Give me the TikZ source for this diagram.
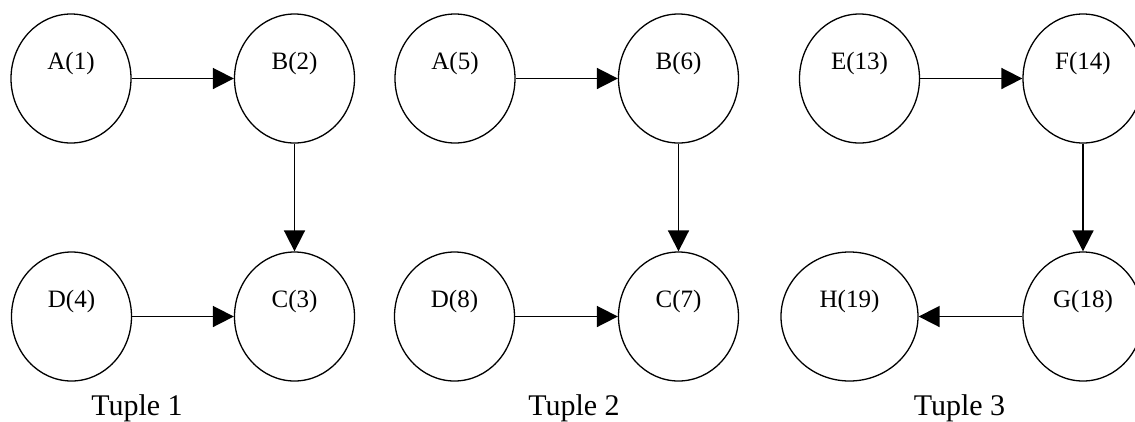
\documentclass[tikz,border=0pt]{standalone}
\usepackage{fontspec}
\setmainfont{Liberation Serif}
\usetikzlibrary{arrows.meta,shapes.geometric}
\begin{document}
\begin{tikzpicture}[x=1bp,y=-1bp,
  state/.style={draw, ellipse, line width=1.3bp, inner sep=0pt,
    minimum width=120bp, minimum height=129bp,
    font=\fontsize{25bp}{25bp}\selectfont,
    text height=18bp, text depth=36bp},
  wide/.style={minimum width=137bp},
  link/.style={line width=1.7bp, -{Triangle[length=21bp,width=21bp]}},
  caption/.style={font=\fontsize{30bp}{30bp}\selectfont, anchor=base}]
  \useasboundingbox (0,0) rectangle (1135,421);
  \clip (0,0) rectangle (1135,421);

  % Tuple 1
  \node[state] (a1) at (71,78.5) {A(1)};
  \node[state] (b2) at (294.5,78.5) {B(2)};
  \node[state] (d4) at (71.5,316.5) {D(4)};
  \node[state] (c3) at (294.5,316.5) {C(3)};
  \draw[link] (a1) -- (b2);
  \draw[link] (b2) -- (c3);
  \draw[link] (d4) -- (c3);
  \node[caption] (t1) at (137,415) {Tuple 1};

  % Tuple 2
  \node[state] (a5) at (455,78.5) {A(5)};
  \node[state] (b6) at (678.5,78.5) {B(6)};
  \node[state] (d8) at (454.5,316.5) {D(8)};
  \node[state] (c7) at (678.5,316.5) {C(7)};
  \draw[link] (a5) -- (b6);
  \draw[link] (b6) -- (c7);
  \draw[link] (d8) -- (c7);
  \node[caption] (t2) at (574,415) {Tuple 2};

  % Tuple 3
  \node[state] (e13) at (859.5,78.5) {E(13)};
  \node[state] (f14) at (1083,78.5) {F(14)};
  \node[state] (g18) at (1083,316.5) {G(18)};
  \node[state, wide] (h19) at (849.5,316.5) {H(19)};
  \draw[link] (e13) -- (f14);
  \draw[link] (f14) -- (g18);
  \draw[link] (g18) -- (h19);
  \node[caption] (t3) at (959.5,415) {Tuple 3};
\end{tikzpicture}
\end{document}
